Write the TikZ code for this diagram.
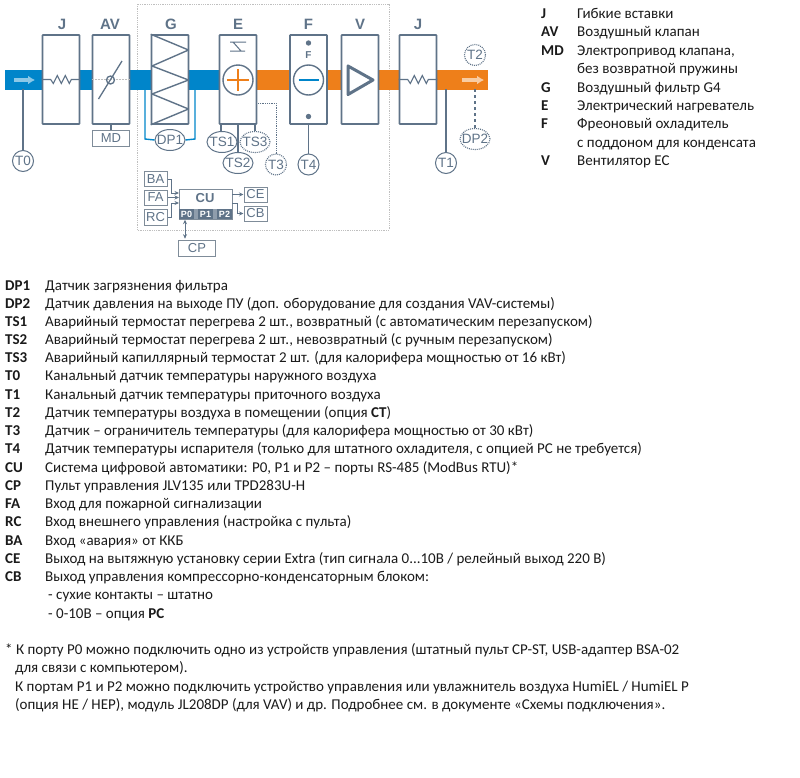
\documentclass[tikz,border=0pt]{standalone}
\usepackage{fontspec}
\setmainfont{Carlito}
\newfontfamily\headfont{Liberation Sans}
\usetikzlibrary{arrows.meta,calc,shapes.geometric}
\definecolor{steel}{HTML}{5F7388}
\definecolor{bluef}{HTML}{0085CA}
\definecolor{orangef}{HTML}{EE7F1A}
\definecolor{greyb}{HTML}{7F8C99}
\definecolor{inkt}{HTML}{1A1A1A}
\newcommand{\stxt}[1]{\raisebox{-0.36em}[0pt][0pt]{\makebox[0pt]{#1}}}
\tikzset{
  unit/.style={draw=steel,line width=1.6pt,rounded corners=0.6pt,fill=white,minimum width=37pt,minimum height=89pt,inner sep=0pt},
  head/.style={font=\headfont\bfseries\fontsize{15}{15}\selectfont,text=steel,inner sep=0pt},
  sens/.style={draw=steel,line width=1pt,ellipse,fill=white,inner sep=0pt,font=\headfont\fontsize{13.5}{13.5}\selectfont,text=steel,minimum width=21pt,minimum height=21pt},
  sensw/.style={sens,minimum width=30pt},
  dots/.style={densely dotted,line width=1.1pt},
  sbox/.style={draw=greyb,line width=1pt,fill=white,inner sep=0pt,font=\headfont\fontsize{13}{13}\selectfont,text=steel,minimum width=23pt,minimum height=15pt},
  port/.style={fill=steel,inner sep=0pt,font=\headfont\bfseries\fontsize{9}{9}\selectfont,text=white,minimum width=15pt,minimum height=10pt},
  wire/.style={draw=steel,line width=1.1pt},
  thin wire/.style={draw=steel,line width=0.8pt,-{Stealth[length=4.5pt,width=4pt]}},
  lab/.style={anchor=base west,inner sep=0pt,font=\fontsize{15}{15}\selectfont,text=inkt},
  key/.style={lab,font=\bfseries\fontsize{15}{15}\selectfont},
}
\begin{document}
\begin{tikzpicture}[x=1pt,y=-1pt]
\useasboundingbox (0,0) rectangle (800,777);
% frame
\draw[draw=black!25,densely dotted,line width=0.8pt] (137,4) rectangle (389,230);
% bands
\fill[bluef] (5,70) rectangle (220,89.5);
\fill[orangef] (257,70) rectangle (488,89.5);
% filter bypass
\coordinate (dpl) at (145,89);
\coordinate (dpr) at (195,89);
% units
\node[unit] (j1) at (61,79.5) {};
\node[unit] (av) at (111,79.5) {};
\node[unit] (g) at (170,79.5) {};
\node[unit] (e) at (238,79.5) {};
\node[unit] (f) at (308.5,79.5) {};
\node[unit] (v) at (360,79.5) {};
\node[unit] (j2) at (418,79.5) {};
% heads
\node[head] at (62,24) {J};
\node[head] at (110,24) {AV};
\node[head] at (171,24) {G};
\node[head] at (238,24) {E};
\node[head] at (308.5,24) {F};
\node[head] at (360,24) {V};
\node[head] at (418,24) {J};
% flexible inserts
\foreach \n in {j1,j2}{
 \draw[steel,line width=1.1pt] (\n.west) -- ++(9,0) -- ++(2.6,4) -- ++(4,-8) -- ++(4,8) -- ++(4,-8) -- ++(4,8) -- ++(2,-4) -- (\n.east);
}
% damper
\draw[black!25,densely dotted,line width=0.5pt] (av.west) -- (av.east);
\draw[steel,line width=1.3pt] (98.5,99) -- (122,61);
\draw[steel,line width=1.3pt,fill=none] (110.5,80) circle (4);
% filter
\draw[steel,line width=1.4pt,line join=round] (g.north west) -- (188.5,50) -- (152,66) -- (188.5,80) -- (152,94) -- (188.5,109) -- (g.south west);
% heater
\draw[steel,line width=1pt] (230,42) -- (246,42) (245,51) -- (230,51) (233,42) -- (241,51);
\node[draw=steel,line width=1.4pt,circle,minimum size=30pt,inner sep=0pt] (ec) at (238,80) {};
\draw[orangef,line width=1.6pt] (ec.center) ++(-11,0) -- ++(22,0) (ec.center) ++(0,-11) -- ++(0,22);
% cooler
\fill[steel] (308.5,43) circle (2.7) (308.5,116.5) circle (2.7);
\node[font=\headfont\bfseries\fontsize{10}{10}\selectfont,text=steel,inner sep=0pt] at (308.5,55.5) {F};
\node[draw=steel,line width=1.4pt,circle,minimum size=30pt,inner sep=0pt] (fc) at (308.5,80) {};
\draw[bluef,line width=2.6pt] (fc.center) ++(-10,0) -- ++(20,0);
% fan
\draw[steel,line width=3pt,line join=round] (348,66) -- (373,80) -- (348,94.5) -- cycle;
% flow arrows
\draw[white!55!bluef,line width=3.2pt,-{Latex[length=7pt,width=9pt]}] (14,80) -- (35,80);
\draw[white!60!orangef,line width=3.2pt,-{Latex[length=7pt,width=9pt]}] (462,80) -- (484,80);
% sensors
\node[sens] (t0) at (23,161) {\stxt{T0}};
\node[sbox,minimum width=37pt,minimum height=16pt] (md) at (111,138) {MD};
\node[sensw] (dp1) at (170,140) {\stxt{DP1}};
\node[sensw] (ts1) at (222,142) {\stxt{TS1}};
\node[sensw,dots] (ts3) at (255,142) {\stxt{TS3}};
\node[sensw] (ts2) at (238,163) {\stxt{TS2}};
\node[sens,dots] (t3) at (276,164.5) {\stxt{T3}};
\node[sens] (t4) at (308.5,164.5) {\stxt{T4}};
\node[sens] (t1) at (446,163) {\stxt{T1}};
\node[sens,dots] (t2) at (475,55) {\stxt{T2}};
\node[sensw,dots] (dp2) at (475,139) {\stxt{DP2}};
% sensor links
\coordinate (t0top) at (23,89);
\coordinate (t1top) at (446,89);
\coordinate (dp2top) at (475,89);
\coordinate (t3a) at (258,103);
\draw[wire] (t0top) -- (t0.north);
\draw[wire] (t1top) -- (t1.north);
\draw[wire] (av.south) -- (md.north);
\draw[wire] (f.south) -- (t4.north);
\draw[wire,line width=1.3pt] (e.south) -- (ts2.north);
\draw[wire] (221,124) -- (221,131);
\draw[wire] (255,124) -- (255,131);
\draw[steel,dashed,line width=1.2pt] (dp2top) -- (dp2.north);
\draw[dots,steel,line width=0.8pt] (t3a) -- (276,103) -- (t3.north);
\draw[bluef,line width=1.4pt] (dpl) -- (145,139) -- (dp1.west);
\draw[bluef,line width=1.4pt] (dpr) -- (195,139) -- (dp1.east);
% control unit
\node[draw=greyb,line width=1pt,minimum width=53pt,minimum height=30pt,inner sep=0pt,fill=white] (cu) at (205.5,204) {};
\node[head,font=\headfont\bfseries\fontsize{13}{13}\selectfont] at (205,198.5) {CU};
\fill[steel!70] (179,209) rectangle (232,219);
\node[port] (p0) at (186.5,214) {P0};
\node[port] (p1) at (205.5,214) {P1};
\node[port] (p2) at (224.5,214) {P2};
\node[sbox] (ba) at (155.5,179) {BA};
\node[sbox] (fa) at (155.5,197.5) {FA};
\node[sbox,minimum height=16pt] (rc) at (155.5,217) {RC};
\node[sbox] (ce) at (255.5,194.5) {CE};
\node[sbox] (cb) at (255.5,213.5) {CB};
\node[sbox,minimum width=37pt,minimum height=16pt] (cp) at (197,248) {CP};
\draw[thin wire] (ba.east) -- (171,179) -- (171,193) -- (179,193);
\draw[thin wire] (fa.east) -- (179,197.5);
\draw[thin wire] (rc.east) -- (171,217) -- (171,203) -- (179,203);
\draw[thin wire] (232,194.5) -- (ce.west);
\draw[thin wire] (232,203) -- (237,203) -- (237,213.5) -- (cb.west);
\draw[draw=steel,line width=0.8pt,{Stealth[length=4.5pt,width=4pt]}-{Stealth[length=4.5pt,width=4pt]}] (p0.south) ++(-1.5,0.5) -- ++(0,19);
% right legend
\foreach \k/\t/\y in {J/{Гибкие вставки}/18,AV/{Воздушный клапан}/36.5,MD/{Электропривод клапана,}/55,G/{Воздушный фильтр G4}/92,E/{Электрический нагреватель}/110,F/{Фреоновый охладитель}/128.5,V/{Вентилятор EC}/165}{
 \node[key] at (541,\y) {\k};
 \node[lab] at (577,\y) {\t};
}
\node[lab] at (577,73.5) {без возвратной пружины};
\node[lab] at (577,147) {с поддоном для конденсата};
% main legend
\foreach \k/\t/\y in {
 DP1/{Датчик загрязнения фильтра}/290,
 DP2/{Датчик давления на выходе ПУ (доп. оборудование для создания VAV-системы)}/308,
 TS1/{Аварийный термостат перегрева 2 шт., возвратный (с автоматическим перезапуском)}/326,
 TS2/{Аварийный термостат перегрева 2 шт., невозвратный (с ручным перезапуском)}/344,
 TS3/{Аварийный капиллярный термостат 2 шт. (для калорифера мощностью от 16 кВт)}/362.5,
 T0/{Канальный датчик температуры наружного воздуха}/380.5,
 T1/{Канальный датчик температуры приточного воздуха}/399,
 T2/{Датчик температуры воздуха в помещении (опция \textbf{CT})}/417,
 T3/{Датчик – ограничитель температуры (для калорифера мощностью от 30 кВт)}/435.5,
 T4/{Датчик температуры испарителя (только для штатного охладителя, с опцией РС не требуется)}/453.5,
 CU/{Система цифровой автоматики: P0, P1 и P2 – порты RS-485 (ModBus RTU)*}/472,
 CP/{Пульт управления JLV135 или TPD283U-H}/490,
 FA/{Вход для пожарной сигнализации}/508,
 RC/{Вход внешнего управления (настройка с пульта)}/526.5,
 BA/{Вход «авария» от ККБ}/545,
 CE/{Выход на вытяжную установку серии Extra (тип сигнала 0...10В / релейный выход 220 В)}/563,
 CB/{Выход управления компрессорно-конденсаторным блоком:}/581}{
 \node[key] at (5,\y) {\k};
 \node[lab] at (45,\y) {\t};
}
\node[lab] at (48,599.5) {- сухие контакты – штатно};
\node[lab] at (48,618) {- 0-10В – опция \textbf{РС}};
\node[lab] at (5,654) {* К порту P0 можно подключить одно из устройств управления (штатный пульт CP-ST, USB-адаптер BSA-02};
\node[lab] at (15,672.5) {для связи с компьютером).};
\node[lab] at (15,691) {К портам P1 и P2 можно подключить устройство управления или увлажнитель воздуха HumiEL /  HumiEL P};
\node[lab] at (15,709.5) {(опция HE / HEP), модуль JL208DP (для VAV) и др. Подробнее см. в документе «Схемы подключения».};
\end{tikzpicture}
\end{document}
